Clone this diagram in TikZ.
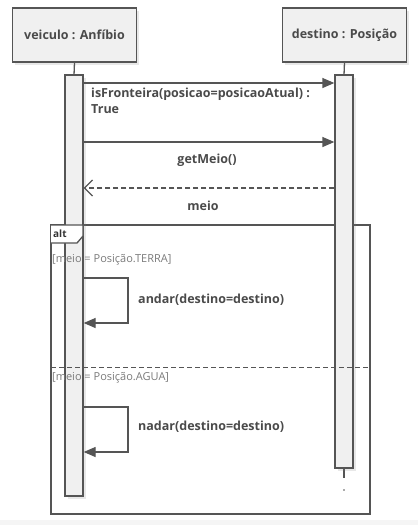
\documentclass[tikz,border=0pt]{standalone}
\usepackage{fontspec}
\setmainfont{Open Sans}
\usetikzlibrary{arrows.meta, shadows}
\definecolor{umlline}{HTML}{555555}
\definecolor{umlfill}{HTML}{F0F0F0}
\definecolor{umltext}{HTML}{4A4A4A}
\definecolor{guardtext}{HTML}{7A7A7A}

\tikzset{
  softshadow/.style={drop shadow={opacity=0.18, shadow xshift=2.5pt, shadow yshift=-2.5pt}},
  objbox/.style={draw=umlline, fill=umlfill, line width=1.3pt, minimum width=124pt, minimum height=54pt,
    font=\bfseries\fontsize{12.5}{15}\selectfont, text=umltext, softshadow},
  actbar/.style={draw=umlline, fill=umlfill, line width=1.3pt, minimum width=18pt, inner sep=0pt, softshadow},
  msg/.style={draw=umlline, line width=1.3pt, -{Triangle[length=12pt, width=10pt]}},
  reply/.style={draw=umlline, line width=1.3pt, dash pattern=on 5pt off 3pt, -{Straight Barb[length=8pt, width=16pt]}},
  msglabel/.style={font=\bfseries\fontsize{12.5}{16.5}\selectfont, text=umltext, inner sep=0pt},
  guard/.style={font=\fontsize{11}{13}\selectfont, text=guardtext, inner sep=0pt, anchor=west}
}

\begin{document}
\begin{tikzpicture}[x=1pt, y=-1pt]
  \useasboundingbox (0,0) rectangle (418,525);
  \fill[black!4] (0,520) rectangle (418,525);

  % lifelines
  \node[objbox] (veiculo) at (74.5,35) {veiculo : Anfíbio};
  \node[objbox] (destino) at (344.5,35) {destino : Posição};
  \draw[umlline, line width=1.3pt] (veiculo.south) -- (74,75);
  \draw[umlline, line width=1.3pt] (destino.south) -- (344,75);
  \draw[umlline, line width=1.3pt] (344,468) -- (344,478);
  \fill[umlline] (344,490) circle (0.9pt);

  % alt fragment
  \coordinate (fragtl) at (51,225);
  \coordinate (fragbr) at (370,514);
  \draw[umlline, line width=1.3pt] (fragtl) rectangle (fragbr);

  % activation bars
  \node[actbar, minimum height=421pt] (barA) at (74,285.5) {};
  \node[actbar, minimum height=393pt] (barB) at (344,271.5) {};

  \draw[umlline, line width=1.3pt, fill=white] (51,225) -- (83,225) -- (83,236) -- (77,243) -- (51,243);
  \node[font=\bfseries\fontsize{10}{12}\selectfont, text=black!80, inner sep=0pt, anchor=west] (alttag) at (53,234) {alt};

  % messages
  \coordinate (y1) at (0,83);
  \coordinate (y2) at (0,142);
  \coordinate (y3) at (0,188);
  \draw[msg] (barA.east |- y1) -- (barB.west |- y1);
  \node[msglabel, anchor=north west, align=left] (isfront) at (91,87.5) {isFronteira(posicao=posicaoAtual) :\\True};
  \draw[msg] (barA.east |- y2) -- (barB.west |- y2);
  \node[msglabel] (getmeio) at (207,160) {getMeio()};
  \draw[reply] (barB.west |- y3) -- (barA.east |- y3);
  \node[msglabel] (meio) at (203,206) {meio};

  % operands
  \node[guard] (terra) at (52,260) {[meio = Posição.TERRA]};
  \draw[umlline, line width=1.3pt, dash pattern=on 5pt off 3pt] (51,367.5) -- (370,367.5);
  \node[guard] (agua) at (52,378) {[meio = Posição.AGUA]};

  % self calls
  \coordinate (a1) at (0,278);
  \coordinate (a2) at (0,323);
  \coordinate (n1) at (0,407);
  \coordinate (n2) at (0,452);
  \draw[msg] (barA.east |- a1) -- (128,278) -- (128,323) -- (barA.east |- a2);
  \node[msglabel, anchor=west] (andar) at (138,300) {andar(destino=destino)};
  \draw[msg] (barA.east |- n1) -- (128,407) -- (128,452) -- (barA.east |- n2);
  \node[msglabel, anchor=west] (nadar) at (138,427) {nadar(destino=destino)};
\end{tikzpicture}
\end{document}
